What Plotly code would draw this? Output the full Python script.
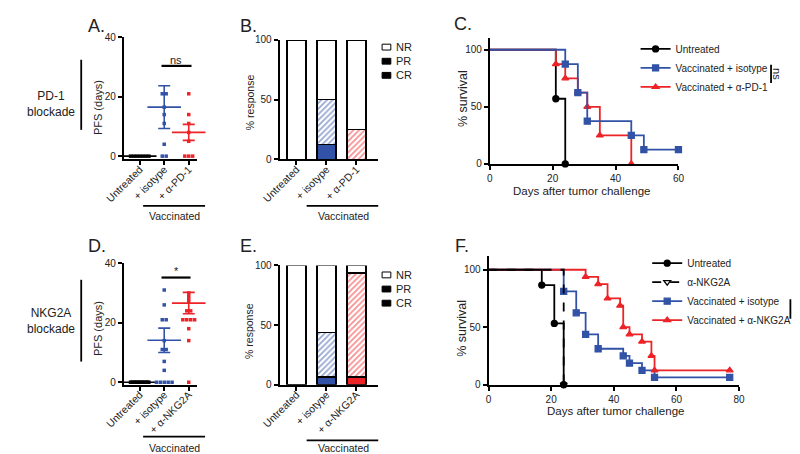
import plotly.graph_objects as go

# ---------------- data ----------------
dot_cats_A = ["Untreated", "+ isotype", "+ α-PD-1"]
dot_cats_D = ["Untreated", "+ isotype", "+ α-NKG2A"]

pfs_untreated_A = [0, 0, 0, 0, 0, 0, 0]
pfs_isotype_A = [21, 21, 16.5, 14, 11, 4, 0, 0]
pfs_apd1_A = [21, 14, 11, 8, 5, 0, 0, 0]
mean_A = [0, 16.5, 8.0]
sem_A = [0, 7.2, 2.7]

pfs_untreated_D = [0] * 15
pfs_isotype_D = [31, 26, 21, 21, 14, 11, 11, 7, 4, 0, 0, 0, 0, 0]
pfs_ankg2a_D = [30, 29, 28, 27, 24, 24, 21, 21, 21, 21, 18, 14, 0]
mean_D = [0, 14.1, 26.6]
sem_D = [0, 4.1, 3.6]

resp_cats_B = ["Untreated", "+ isotype", "+ α-PD-1"]
cr_B = [0, 12.5, 0]
pr_B = [0, 37.5, 25]
nr_B = [100, 50, 75]

resp_cats_E = ["Untreated", "+ isotype", "+ α-NKG2A"]
cr_E = [0, 6.25, 6.25]
pr_E = [0, 37.5, 87.5]
nr_E = [100, 56.25, 6.25]

days_untreated_C = [0, 21, 24]
surv_untreated_C = [100, 57.1, 0]
days_iso_C = [0, 24, 28, 31, 45, 49, 60]
surv_iso_C = [100, 87.5, 62.5, 37.5, 25, 12.5, 12.5]
days_apd1_C = [0, 21, 24, 28, 31, 35, 45]
surv_apd1_C = [100, 87.5, 75, 62.5, 50, 25, 0]

days_untreated_F = [0, 17, 21, 24]
surv_untreated_F = [100, 86.7, 53.3, 0]
days_nkg2a_F = [0, 24]
surv_nkg2a_F = [100, 0]
days_iso_F = [0, 24, 28, 31, 35, 43, 45, 49, 53, 77]
surv_iso_F = [100, 81.25, 62.5, 43.75, 31.25, 25, 18.75, 12.5, 6.25, 6.25]
days_ankg2a_F = [0, 31, 35, 38, 42, 43, 45, 49, 52, 53, 77]
surv_ankg2a_F = [100, 93.75, 87.5, 75, 68.75, 50, 43.75, 37.5, 25, 12.5, 12.5]

# ---------------- style ----------------
BLUE = "#3152A6"
RED = "#EC2327"
BLACK = "#000000"
FONT = "Liberation Sans, Arial, sans-serif"
W, H = 800, 454


def px(x):
    return x / W


def py(y):
    return 1 - y / H


def spread(vals, center, step, maxw):
    counts = {}
    for v in vals:
        counts[v] = counts.get(v, 0) + 1
    seen = {}
    xs = []
    for v in vals:
        n = counts[v]
        i = seen.get(v, 0)
        seen[v] = i + 1
        s = step if n < 2 else min(step, maxw / (n - 1))
        xs.append(center + (i - (n - 1) / 2) * s)
    return xs


fig = go.Figure()


def dot_panel(xa, ya, groups, means, sems):
    colors = [BLACK, BLUE, RED]
    for k, vals in enumerate(groups):
        fig.add_trace(go.Scatter(
            x=spread(vals, k, 0.16, 0.75), y=vals, mode="markers",
            marker=dict(symbol="square", size=3.5, color=colors[k]),
            xaxis=xa, yaxis=ya, showlegend=False, cliponaxis=False))
        fig.add_trace(go.Scatter(
            x=[k], y=[means[k]], mode="markers",
            marker=dict(symbol="line-ew-open", size=24, color=colors[k],
                        line=dict(color=colors[k], width=1.6)),
            error_y=dict(type="data", array=[sems[k]], visible=sems[k] > 0,
                         color=colors[k], thickness=1.6, width=6),
            xaxis=xa, yaxis=ya, showlegend=False, cliponaxis=False))


dot_panel("x", "y", [pfs_untreated_A, pfs_isotype_A, pfs_apd1_A], mean_A, sem_A)
dot_panel("x4", "y4", [pfs_untreated_D, pfs_isotype_D, pfs_ankg2a_D], mean_D, sem_D)


def bar_panel(xa, ya, cr, pr, nr):
    xs = [0, 1, 2]
    cols = ["#ffffff", BLUE, RED]
    ol = dict(color=BLACK, width=1.5)
    fig.add_trace(go.Bar(x=xs, y=cr, marker=dict(color=cols, line=ol), width=0.62,
                         xaxis=xa, yaxis=ya, showlegend=False))
    fig.add_trace(go.Bar(x=xs, y=pr, width=0.62,
                         marker=dict(color="white", line=ol,
                                     pattern=dict(shape="/", fgcolor=cols, bgcolor="white",
                                                  size=4, solidity=0.45)),
                         xaxis=xa, yaxis=ya, showlegend=False))
    fig.add_trace(go.Bar(x=xs, y=nr, width=0.62, marker=dict(color="white", line=ol),
                         xaxis=xa, yaxis=ya, showlegend=False))


bar_panel("x2", "y2", cr_B, pr_B, nr_B)
bar_panel("x5", "y5", cr_E, pr_E, nr_E)


def surv(xa, ya, days, s, color, symbol, name, legend, rank, dash="solid", msize=6):
    fig.add_trace(go.Scatter(x=days, y=s, mode="lines", line=dict(color=color, width=1.8, shape="hv", dash=dash),
                             xaxis=xa, yaxis=ya, showlegend=False, cliponaxis=False))
    fig.add_trace(go.Scatter(x=days[1:], y=s[1:], mode="markers",
                             marker=dict(symbol=symbol, size=msize, color=color,
                                         line=dict(color=color, width=1.3)),
                             xaxis=xa, yaxis=ya, showlegend=False, cliponaxis=False))
    fig.add_trace(go.Scatter(x=[None], y=[None], mode="lines+markers", name=name,
                             line=dict(color=color, width=1.8, dash=dash),
                             marker=dict(symbol=symbol, size=msize, color=color,
                                         line=dict(color=color, width=1.3)),
                             xaxis=xa, yaxis=ya, legend=legend, legendrank=rank))


# C: draw order black, red, blue (blue on top)
surv("x3", "y3", days_untreated_C, surv_untreated_C, BLACK, "circle", "Untreated", "legend", 1)
surv("x3", "y3", days_apd1_C, surv_apd1_C, RED, "triangle-up", "Vaccinated + α-PD-1", "legend", 3)
surv("x3", "y3", days_iso_C, surv_iso_C, BLUE, "square", "Vaccinated + isotype", "legend", 2)

# F
surv("x6", "y6", days_iso_F, surv_iso_F, BLUE, "square", "Vaccinated + isotype", "legend2", 3)
surv("x6", "y6", days_ankg2a_F, surv_ankg2a_F, RED, "triangle-up", "Vaccinated + α-NKG2A", "legend2", 4)
surv("x6", "y6", days_nkg2a_F, surv_nkg2a_F, BLACK, "triangle-down-open", "α-NKG2A", "legend2", 2, dash="dash")
surv("x6", "y6", days_untreated_F, surv_untreated_F, BLACK, "circle", "Untreated", "legend2", 1)

# ---------------- axes ----------------
base = dict(showline=True, linecolor=BLACK, linewidth=1.8, ticks="outside", ticklen=4,
            tickwidth=1.5, tickcolor=BLACK, showgrid=False, zeroline=False,
            tickfont=dict(size=10, color="#222", family=FONT))


def cat_x(domain, rng, labels, anchor):
    d = dict(base)
    d.update(domain=domain, range=rng, tickmode="array", tickvals=[0, 1, 2], ticktext=labels,
             tickangle=-45, anchor=anchor, ticklabelstandoff=-6,
             tickfont=dict(size=10.5, color="#222", family=FONT))
    return d


def num_ax(domain, rng, tickvals, anchor, size=10):
    d = dict(base)
    d.update(domain=domain, range=rng, tickmode="array", tickvals=tickvals, anchor=anchor,
             tickfont=dict(size=size, color="#222", family=FONT))
    return d


layout = dict(
    width=W, height=H, margin=dict(l=0, r=0, t=0, b=0),
    paper_bgcolor="white", plot_bgcolor="white",
    font=dict(family=FONT, color="#222"),
    barmode="stack", bargap=0.3,
    xaxis=cat_x([px(99), px(175)], [-0.65, 2.35], dot_cats_A, "y"),
    yaxis=num_ax([py(149.3), py(24)], [-1.08, 40], [0, 20, 40], "x"),
    xaxis2=cat_x([px(260), px(362)], [-0.565, 2.726], resp_cats_B, "y2"),
    yaxis2=num_ax([py(149.3), py(26.7)], [0, 100], [0, 50, 100], "x2"),
    xaxis3=num_ax([px(477.3), px(672.3)], [0, 60], [0, 20, 40, 60], "y3"),
    yaxis3=num_ax([py(154), py(25)], [0, 110], [0, 50, 100], "x3"),
    xaxis4=cat_x([px(99), px(175)], [-0.65, 2.35], dot_cats_D, "y4"),
    yaxis4=num_ax([py(380.7), py(256)], [-0.8, 40], [0, 20, 40], "x4"),
    xaxis5=cat_x([px(260), px(362)], [-0.565, 2.726], resp_cats_E, "y5"),
    yaxis5=num_ax([py(380.7), py(258.3)], [0, 100], [0, 50, 100], "x5"),
    xaxis6=num_ax([px(476), px(735)], [0, 80], [0, 20, 40, 60, 80], "y6"),
    yaxis6=num_ax([py(380.7), py(249)], [0, 111.6], [0, 50, 100], "x6"),
    legend=dict(x=px(628), y=py(21), xanchor="left", yanchor="top", bgcolor="rgba(0,0,0,0)",
                font=dict(size=10, family=FONT, color="#222"), traceorder="normal"),
    legend2=dict(x=px(640), y=py(241), xanchor="left", yanchor="top", bgcolor="rgba(0,0,0,0)",
                 font=dict(size=10, family=FONT, color="#222"), traceorder="normal"),
)
fig.update_layout(**layout)

# ---------------- annotations & shapes ----------------
ann = []
shapes = []


def text(x, y, t, size=11, angle=0, xanchor="center", yanchor="middle"):
    ann.append(dict(x=px(x), y=py(y), xref="paper", yref="paper", text=t, showarrow=False,
                    textangle=angle, xanchor=xanchor, yanchor=yanchor,
                    font=dict(size=size, family=FONT, color="#222")))


def line(x0, y0, x1, y1, w=1.8):
    shapes.append(dict(type="line", xref="paper", yref="paper", x0=px(x0), y0=py(y0),
                       x1=px(x1), y1=py(y1), line=dict(color=BLACK, width=w)))


# panel letters
for (lx, ly, t) in [(71, 12, "A."), (228, 12, "B."), (450, 10, "C."),
                    (71, 238, "D."), (228, 238, "E."), (449, 238, "F.")]:
    text(lx, ly, t, size=18)

# side labels
text(24, 92, "PD-1<br>blockade", size=12)
line(55, 47, 55, 119)
text(24, 315, "NKG2A<br>blockade", size=12)
line(55, 273, 55, 357)

# axis titles
text(73, 96, "PFS (days)", size=11, angle=-90)
text(73, 323, "PFS (days)", size=11, angle=-90)
text(229, 91, "% response", size=10.5, angle=-90)
text(229, 326, "% response", size=10.5, angle=-90)
text(449, 87, "% survival", size=12.5, angle=-90)
text(449, 323, "% survival", size=12.5, angle=-90)
text(572, 182, "Days after tumor challenge", size=11.5)
text(607, 408, "Days after tumor challenge", size=11.5)

# Vaccinated group brackets
line(119, 197, 183, 197)
text(151, 207, "Vaccinated", size=10.5)
line(288, 197, 362, 197)
text(326, 207, "Vaccinated", size=10.5)
line(119, 434, 183, 434)
text(151, 446, "Vaccinated", size=10.5)
line(288, 438, 362, 438)
text(326, 446, "Vaccinated", size=10.5)

# significance
line(138, 53.3, 169, 53.3, 2.2)
text(153, 47, "ns", size=11)
line(138, 270.7, 168, 270.7, 2.2)
text(153, 264, "*", size=11)
line(768, 52, 768, 71)
text(774, 61.5, "ns", size=11, angle=90)
line(788, 293, 788, 313)
text(793, 303, "**", size=10, angle=90)

# response legends (B, E)
for ly0 in [34, 268]:
    items = [("NR", "white"), ("PR", BLACK), ("CR", BLACK)]
    for i, (lab, col) in enumerate(items):
        yc = ly0 + i * 14.5
        shapes.append(dict(type="rect", xref="paper", yref="paper", x0=px(366), x1=px(375),
                           y0=py(yc + 3), y1=py(yc - 3), fillcolor=col,
                           line=dict(color=BLACK, width=1)))
        text(378, yc, lab, size=11, xanchor="left")

fig.update_layout(annotations=ann, shapes=shapes)
fig.write_html("out.html")
